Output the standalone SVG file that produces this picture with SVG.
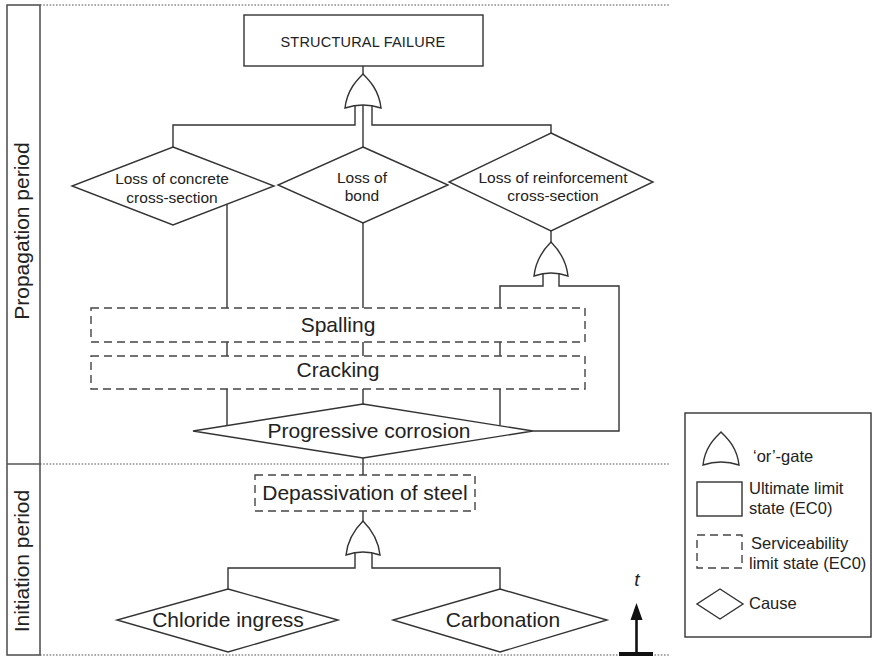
<svg xmlns="http://www.w3.org/2000/svg" width="872" height="656" viewBox="0 0 872 656">
<style>
  .ln{fill:none;stroke:#333;stroke-width:1.4}
  .box{fill:#fff;stroke:#333;stroke-width:1.4}
  .dbox{fill:#fff;stroke:#444;stroke-width:1.4;stroke-dasharray:8 5}
  .dot{fill:none;stroke:#555;stroke-width:1.2;stroke-dasharray:1.6 1.6}
  .col{fill:none;stroke:#555;stroke-width:1.6}
  .t{font-family:"Liberation Sans",Arial,sans-serif;fill:#222;text-anchor:middle}
  .big{font-size:21px}
  .mid{font-size:15.5px}
  .lg{font-size:16.5px;text-anchor:start}
</style>
<rect width="872" height="656" fill="#fff"/>

<!-- period column and separators -->
<g id="periods">
  <rect class="col" x="7" y="5" width="33" height="650"/>
  <line class="col" x1="7" y1="464" x2="40" y2="464"/>
  <line class="dot" x1="40" y1="5" x2="669" y2="5"/>
  <line class="dot" x1="40" y1="464" x2="670" y2="464"/>
  <line class="dot" x1="40" y1="655" x2="670" y2="655"/>
  <text class="t big" transform="translate(29,231) rotate(-90)">Propagation period</text>
  <text class="t big" transform="translate(29,561) rotate(-90)">Initiation period</text>
</g>

<!-- connectors -->
<g id="connectors" class="ln">
  <line x1="363" y1="66" x2="363" y2="74"/>
  <path d="M355,105 V125 H173 V147"/>
  <path d="M372,105 V125 H551 V133"/>
  <path d="M363,105 V147"/>
  <path d="M227,204 V308"/>
  <path d="M363,223 V308"/>
  <path d="M551,231 V242"/>
  <path d="M543,273 V286 H500 V308"/>
  <path d="M559,273 V286 H619 V431 H533"/>
  <path d="M227,342 V356 M363,342 V356 M500,342 V356"/>
  <path d="M227,389 V425.6 M363,389 V404 M500,389 V425.6"/>
  <path d="M363,458 V475"/>
  <path d="M363,511 V521"/>
  <path d="M355,552 V568 H228 V589"/>
  <path d="M372,552 V568 H500 V589"/>
</g>

<!-- nodes -->
<g id="structural-failure">
  <rect class="box" x="244" y="15" width="239" height="51"/>
  <text class="t" x="363" y="47" style="font-size:14.5px;letter-spacing:0.2px">STRUCTURAL FAILURE</text>
</g>
<g id="gate-top">
  <path class="box" d="M345,108 C347,90 357,80 363,74 C369,80 379,90 381,108 Q363,102 345,108 Z"/>
</g>
<g id="loss-concrete">
  <polygon class="box" points="173,147 274,186 173,225 72,186"/>
  <text class="t mid" x="172" y="184">Loss of concrete</text>
  <text class="t mid" x="172" y="203">cross-section</text>
</g>
<g id="loss-bond">
  <polygon class="box" points="363,147 448,185 363,223 278,185"/>
  <text class="t mid" x="362" y="183">Loss of</text>
  <text class="t mid" x="362" y="201">bond</text>
</g>
<g id="loss-reinforcement">
  <polygon class="box" points="551,133 653,182 551,231 449,182"/>
  <text class="t mid" x="553" y="183">Loss of reinforcement</text>
  <text class="t mid" x="553" y="201">cross-section</text>
</g>
<g id="gate-reinforcement">
  <path class="box" d="M534,276 C536,258 545,248 551,242 C557,248 566,258 568,276 Q551,270 534,276 Z"/>
</g>
<g id="spalling">
  <rect class="dbox" x="91" y="308" width="494" height="34"/>
  <text class="t big" x="338" y="332">Spalling</text>
</g>
<g id="cracking">
  <rect class="dbox" x="91" y="356" width="494" height="33"/>
  <text class="t big" x="338" y="377">Cracking</text>
</g>
<g id="progressive-corrosion">
  <polygon class="box" points="363,404 533,431 363,458 193,431"/>
  <text class="t big" x="369" y="438">Progressive corrosion</text>
</g>
<g id="depassivation">
  <rect class="dbox" x="255" y="475" width="220" height="36"/>
  <text class="t big" x="365" y="500">Depassivation of steel</text>
</g>
<g id="gate-initiation">
  <path class="box" d="M346,555 C348,537 357,527 363,521 C369,527 378,537 380,555 Q363,549 346,555 Z"/>
</g>
<g id="chloride">
  <polygon class="box" points="228,589 338,620 228,652 117,620"/>
  <text class="t big" x="228" y="627">Chloride ingress</text>
</g>
<g id="carbonation">
  <polygon class="box" points="500,589 607,620 500,652 393,620"/>
  <text class="t big" x="503" y="627">Carbonation</text>
</g>

<!-- time arrow -->
<g id="time-arrow">
  <text class="t" x="637" y="586" style="font-size:19px;font-style:italic">t</text>
  <line x1="636.5" y1="615" x2="636.5" y2="653" stroke="#111" stroke-width="2.6"/>
  <polygon points="636.5,603 642.5,620 630.5,620" fill="#111"/>
  <rect x="619" y="652" width="34" height="4" fill="#111"/>
</g>

<!-- legend -->
<g id="legend">
  <rect x="685" y="413" width="186" height="224" fill="#fff" stroke="#333" stroke-width="1.4"/>
  <path class="box" d="M703,465 C705,447 715,438 721,432 C727,438 737,447 739,465 Q721,459 703,465 Z"/>
  <text class="t lg" x="753" y="462">‘or’-gate</text>
  <rect class="box" x="697" y="482" width="45" height="34"/>
  <text class="t lg" x="749" y="494">Ultimate limit</text>
  <text class="t lg" x="749" y="514">state (EC0)</text>
  <rect class="dbox" x="697" y="535" width="45" height="33"/>
  <text class="t lg" x="751" y="549">Serviceability</text>
  <text class="t lg" x="749" y="569">limit state (EC0)</text>
  <polygon class="box" points="720,589 743,604 720,619 697,604"/>
  <text class="t lg" x="749" y="609">Cause</text>
</g>
</svg>
